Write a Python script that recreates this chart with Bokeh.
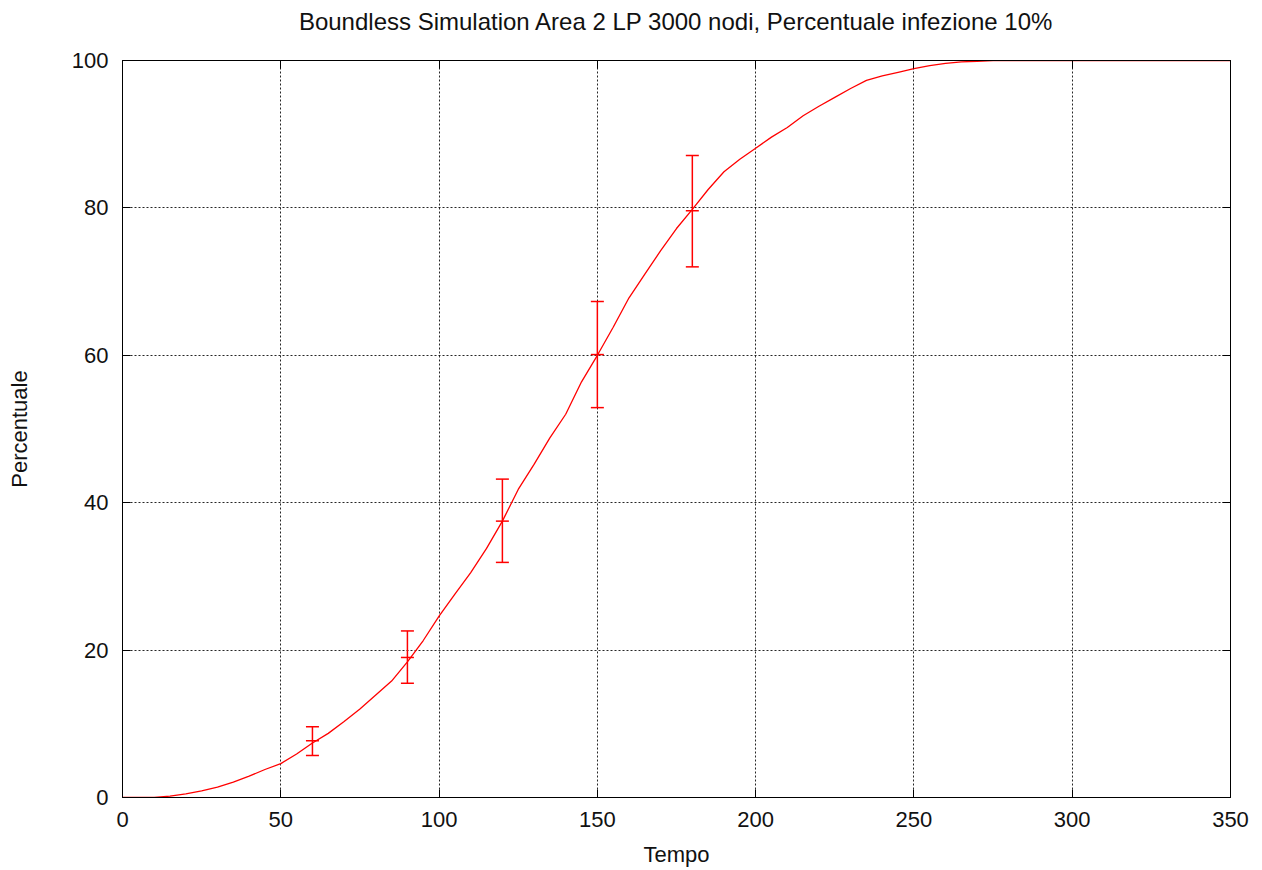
from bokeh.plotting import figure
from bokeh.models import Range1d, FixedTicker, LinearAxis, Whisker, ColumnDataSource, TeeHead
from bokeh.embed import file_html
from bokeh.resources import INLINE

# ---- data ----
tempo = [0, 5, 10, 15, 20, 25, 30, 35, 40, 45, 50, 55, 60, 65, 70, 75, 80, 85, 90, 95,
         100, 105, 110, 115, 120, 125, 130, 135, 140, 145, 150, 155, 160, 165, 170, 175,
         180, 185, 190, 195, 200, 205, 210, 215, 220, 225, 230, 235, 240, 245, 250, 255,
         260, 265, 270, 275, 280, 290, 300, 310, 320, 330, 340, 350]
percentuale = [0, 0, 0, 0.2, 0.5, 0.9, 1.4, 2.1, 2.9, 3.8, 4.6, 5.9, 7.4, 8.7, 10.3, 12.0,
               13.9, 15.8, 18.4, 21.3, 24.6, 27.6, 30.5, 33.8, 37.5, 41.8, 45.2, 48.8, 52.0,
               56.4, 60.0, 63.8, 67.8, 71.0, 74.2, 77.2, 79.8, 82.5, 84.9, 86.6, 88.1, 89.6,
               90.9, 92.5, 93.8, 95.0, 96.2, 97.3, 97.9, 98.4, 98.9, 99.3, 99.6, 99.8, 99.9,
               100, 100, 100, 100, 100, 100, 100, 100, 100]

err_x = [60, 90, 120, 150, 180]
err_mean = [7.7, 19.0, 37.5, 60.1, 79.6]
err_low = [5.7, 15.5, 31.9, 52.9, 72.0]
err_high = [9.6, 22.6, 43.2, 67.3, 87.1]

x_ticks = [0, 50, 100, 150, 200, 250, 300, 350]
y_ticks = [0, 20, 40, 60, 80, 100]

title_text = "Boundless Simulation Area 2 LP 3000 nodi, Percentuale infezione 10%"
x_label = "Tempo"
y_label = "Percentuale"

FONT = "Liberation Sans"
RED = "#ff0000"

p = figure(width=1262, height=870, output_backend="svg", toolbar_location=None,
           x_range=Range1d(x_ticks[0], x_ticks[-1]), y_range=Range1d(y_ticks[0], y_ticks[-1]),
           min_border_left=122, min_border_right=32, min_border_top=60, min_border_bottom=73)

p.title.text = title_text
p.title.align = "center"
p.title.vertical_align = "top"
p.title.text_font = FONT
p.title.text_font_size = "24px"
p.title.text_font_style = "normal"
p.title.text_color = "#111111"
p.title.standoff = 0

p.background_fill_color = "white"
p.border_fill_color = "white"
p.outline_line_color = "black"
p.outline_line_width = 1

for ax, ticks, lab in ((p.xaxis[0], x_ticks, x_label), (p.yaxis[0], y_ticks, y_label)):
    ax.ticker = FixedTicker(ticks=ticks)
    ax.axis_label = lab
    ax.axis_label_text_font = FONT
    ax.axis_label_text_font_size = "22px"
    ax.axis_label_text_font_style = "normal"
    ax.axis_label_text_color = "#111111"
    ax.major_label_text_font = FONT
    ax.major_label_text_font_size = "22px"
    ax.major_label_text_color = "#111111"
    ax.major_tick_in = 8
    ax.major_tick_out = 0
    ax.minor_tick_line_color = None
    ax.axis_line_color = "black"
    ax.major_tick_line_color = "black"

p.xaxis[0].major_label_standoff = 14
p.xaxis[0].axis_label_standoff = 12
p.yaxis[0].major_label_standoff = 14
p.yaxis[0].axis_label_standoff = 37

# mirrored ticks on the top and right sides (no labels)
top = LinearAxis(ticker=FixedTicker(ticks=x_ticks), major_label_text_color=None,
                 major_label_text_font_size="1px",
                 major_tick_in=8, major_tick_out=0, minor_tick_line_color=None,
                 major_label_standoff=0, axis_line_color="black")
right = LinearAxis(ticker=FixedTicker(ticks=y_ticks), major_label_text_color=None,
                   major_label_text_font_size="1px",
                   major_tick_in=8, major_tick_out=0, minor_tick_line_color=None,
                   major_label_standoff=0, axis_line_color="black")
p.add_layout(top, "above")
p.add_layout(right, "right")

# invisible spacer between the frame and the title
spacer = LinearAxis(ticker=FixedTicker(ticks=x_ticks), major_label_text_color=None,
                    major_label_text_font_size="1px", axis_line_color=None,
                    major_tick_line_color=None, minor_tick_line_color=None,
                    major_tick_in=0, major_tick_out=24, major_label_standoff=0)
p.add_layout(spacer, "above")

p.xgrid.ticker = FixedTicker(ticks=x_ticks)
p.ygrid.ticker = FixedTicker(ticks=y_ticks)
for g in (p.xgrid[0], p.ygrid[0]):
    g.grid_line_color = "black"
    g.grid_line_dash = "2 2"
    g.grid_line_width = 1
    g.grid_line_alpha = 0.85

p.line(tempo, percentuale, line_color=RED, line_width=1.3)

src = ColumnDataSource(dict(x=err_x, mean=err_mean, low=err_low, high=err_high))
wh = Whisker(source=src, base="x", lower="low", upper="high", line_color=RED, line_width=1.5,
             upper_head=TeeHead(size=13, line_color=RED, line_width=1.5),
             lower_head=TeeHead(size=13, line_color=RED, line_width=1.5))
p.add_layout(wh)
p.scatter("x", "mean", source=src, marker="dash", size=13, line_color=RED, line_width=1.5)

open("out.html", "w").write(file_html(p, INLINE))
